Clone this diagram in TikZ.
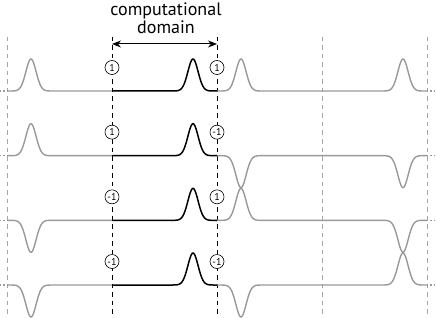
\documentclass[tikz,border=0pt]{standalone}
\usepackage{fontspec}
\setmainfont{PT Sans}
\usetikzlibrary{arrows.meta, positioning}

\tikzset{
  ghost/.style={draw=black!40, line width=1.4pt},
  field/.style={draw=black, line width=1.5pt},
  wall/.style={draw=black!35, line width=0.8pt, dash pattern=on 4.5pt off 4pt},
  domwall/.style={draw=black, line width=0.9pt, dash pattern=on 4.5pt off 4pt},
  bclabel/.style={circle, draw, fill=white, line width=0.6pt, minimum size=14pt, inner sep=0pt, font=\fontsize{10}{10}\selectfont}
}

\begin{document}
\begin{tikzpicture}[x=1pt, y=-1pt]
  \useasboundingbox (0,0) rectangle (436,318);

  % periodic walls and domain walls
  \foreach \xw in {7,322,427}
    \draw[wall] (\xw,37) -- (\xw,318);
  \foreach \xw in {112,217}
    \draw[domwall] (\xw,37) -- (\xw,318);

  % domain arrow and title
  \coordinate (domL) at (112,44);
  \coordinate (domR) at (217,44);
  \draw[{Stealth[length=9pt,width=7pt]}-{Stealth[length=9pt,width=7pt]}, line width=1pt] (domL) -- (domR);
  \node[align=center, anchor=base, font=\fontsize{18}{18}\selectfont] (title) at (166,34) {computational\\domain};

  % one row per choice of boundary signs
  \foreach \row/\sl/\sr/\labL/\labR in {0/1/1/1/1, 1/1/-1/1/-1, 2/-1/1/-1/1, 3/-1/-1/-1/-1} {
    \pgfmathsetmacro\base{91+64.67*\row}
    \pgfmathsetmacro\sfar{(\sl)*(\sr)}
    \draw[ghost, dotted] (0,\base) -- (7,\base);
    \draw[ghost, dotted] (427,\base) -- (436,\base);
    \draw[ghost] (7,\base) -- plot[domain=9:55, samples=47] (\x,{\base-32*(\sl)*exp(-((\x-31)/7.2)^2)}) -- (112,\base);
    \draw[ghost] (217,\base) -- plot[domain=218:265, samples=48] (\x,{\base-32*(\sr)*exp(-((\x-241)/7.2)^2)})
      -- plot[domain=379:426, samples=48] (\x,{\base-32*(\sfar)*exp(-((\x-403)/7.2)^2)}) -- (427,\base);
    \draw[field] (112,\base) -- plot[domain=169:216, samples=48] (\x,{\base-32*exp(-((\x-193)/7.2)^2)}) -- (217,\base);
    \node[bclabel] (L\row) at (112,\base-23.5) {\labL};
    \node[bclabel] (R\row) at (217,\base-23.5) {\labR};
  }
\end{tikzpicture}
\end{document}
